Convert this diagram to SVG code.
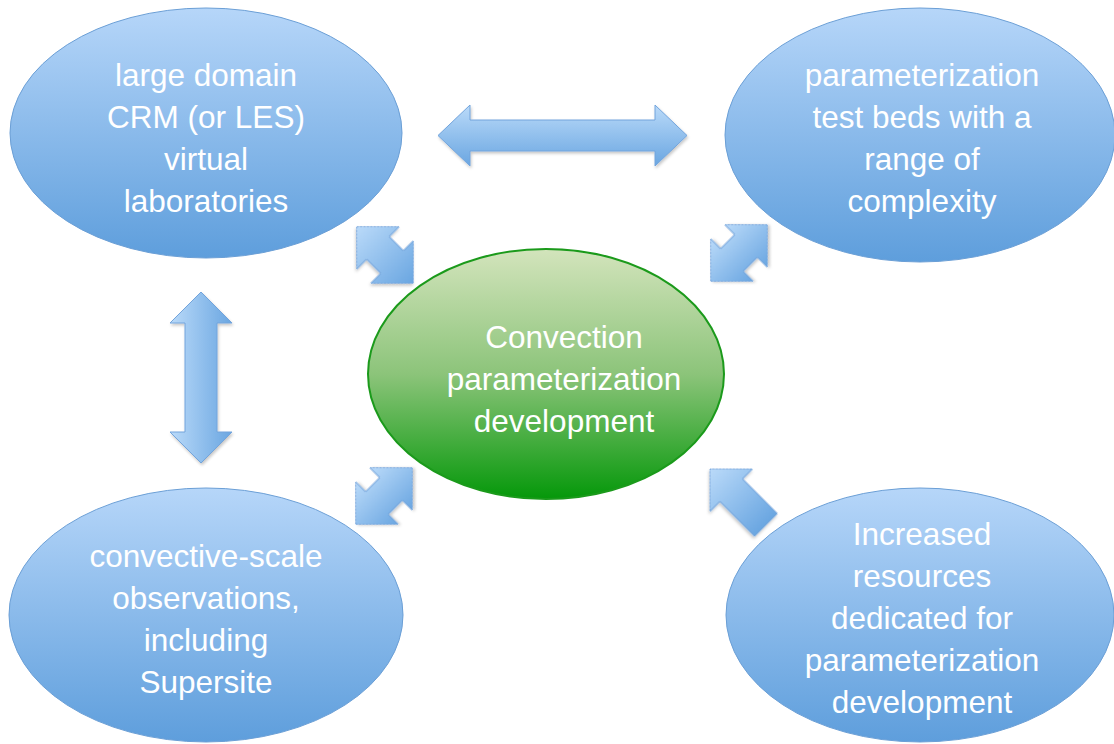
<svg xmlns="http://www.w3.org/2000/svg" width="1114" height="744" viewBox="0 0 1114 744">
<defs>
<linearGradient id="blueFill" x1="0" y1="0" x2="0" y2="1">
<stop offset="0" stop-color="#b6d6f9"/>
<stop offset="1" stop-color="#5e9edc"/>
</linearGradient>
<linearGradient id="greenFill" x1="0" y1="0" x2="0" y2="1">
<stop offset="0" stop-color="#d3e4bc"/>
<stop offset="0.5" stop-color="#8cc47a"/>
<stop offset="1" stop-color="#05980a"/>
</linearGradient>
<linearGradient id="arrowV" x1="0" y1="0" x2="0" y2="1">
<stop offset="0" stop-color="#badaf9"/>
<stop offset="1" stop-color="#6aa6e1"/>
</linearGradient>
<linearGradient id="arrowH" x1="0" y1="0" x2="1" y2="0">
<stop offset="0" stop-color="#badaf9"/>
<stop offset="1" stop-color="#6aa6e1"/>
</linearGradient>
<filter id="shadow" x="-20%" y="-20%" width="140%" height="140%">
<feDropShadow dx="1" dy="2" stdDeviation="1.5" flood-color="#000" flood-opacity="0.22"/>
</filter>
</defs>
<style>
.blue { fill: url(#blueFill); stroke: #6b9fd6; stroke-width: 1; }
.green { fill: url(#greenFill); stroke: #1b9a1b; stroke-width: 2; }
.arr { stroke: #72a4dc; stroke-width: 1; filter: url(#shadow); }
.lbl { font-family: "Liberation Sans", Arial, sans-serif; font-size: 31.5px; fill: #ffffff; text-anchor: middle; }
</style>
<rect width="1114" height="744" fill="#ffffff"/>

<g id="connectors">
<polygon class="arr" fill="url(#arrowV)" points="438,135.5 470,105 470,120 655,120 655,105 687,135.5 655,166 655,151 470,151 470,166"/>
<polygon class="arr" fill="url(#arrowH)" points="201,292 232,323 217,323 217,432 232,432 201,463 170,432 185,432 185,323 170,323"/>
<polygon class="arr" fill="url(#arrowH)" transform="translate(385,255) rotate(45)" points="-40,0 -10,-30 -10,-16 10,-16 10,-30 40,0 10,30 10,16 -10,16 -10,30"/>
<polygon class="arr" fill="url(#arrowV)" transform="translate(739,253) rotate(-45)" points="-40,0 -10,-30 -10,-16 10,-16 10,-30 40,0 10,30 10,16 -10,16 -10,30"/>
<polygon class="arr" fill="url(#arrowV)" transform="translate(384,496) rotate(-45)" points="-40,0 -10,-30 -10,-16 10,-16 10,-30 40,0 10,30 10,16 -10,16 -10,30"/>
<polygon class="arr" fill="url(#arrowH)" transform="translate(710,469) rotate(45)" points="0,0 30,-30 30,-16 79,-16 79,16 30,16 30,30"/>
</g>

<g id="node-crm">
<ellipse class="blue" cx="206" cy="133" rx="196" ry="125"/>
<text class="lbl" x="206" y="86">large domain</text>
<text class="lbl" x="206" y="128">CRM (or LES)</text>
<text class="lbl" x="206" y="170">virtual</text>
<text class="lbl" x="206" y="212">laboratories</text>
</g>

<g id="node-testbeds">
<ellipse class="blue" cx="920" cy="135" rx="195" ry="127"/>
<text class="lbl" x="922" y="86">parameterization</text>
<text class="lbl" x="922" y="128">test beds with a</text>
<text class="lbl" x="922" y="170">range of</text>
<text class="lbl" x="922" y="212">complexity</text>
</g>

<g id="node-obs">
<ellipse class="blue" cx="206" cy="615" rx="197" ry="127"/>
<text class="lbl" x="206" y="567">convective-scale</text>
<text class="lbl" x="206" y="609">observations,</text>
<text class="lbl" x="206" y="651">including</text>
<text class="lbl" x="206" y="693">Supersite</text>
</g>

<g id="node-resources">
<ellipse class="blue" cx="920" cy="615" rx="194" ry="127"/>
<text class="lbl" x="922" y="545">Increased</text>
<text class="lbl" x="922" y="587">resources</text>
<text class="lbl" x="922" y="629">dedicated for</text>
<text class="lbl" x="922" y="671">parameterization</text>
<text class="lbl" x="922" y="713">development</text>
</g>

<g id="node-center">
<ellipse class="green" cx="546" cy="374" rx="178" ry="125"/>
<text class="lbl" x="564" y="348">Convection</text>
<text class="lbl" x="564" y="390">parameterization</text>
<text class="lbl" x="564" y="432">development</text>
</g>
</svg>
